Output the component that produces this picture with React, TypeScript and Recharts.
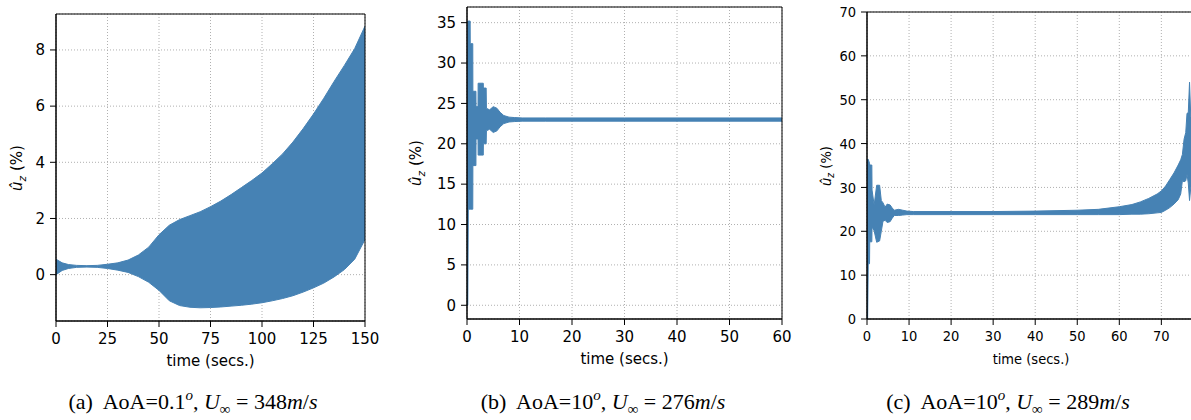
import React from 'react';
import { ComposedChart, Area, XAxis, YAxis, CartesianGrid, ReferenceArea } from 'recharts';

// (a) AoA=0.1, U=348 m/s : envelope of the oscillation
const timesA = [0, 3, 6, 10, 15, 20, 25, 30, 35, 40, 45, 50, 55, 60, 65, 70, 75, 80, 85, 90, 95, 100, 105, 110, 115, 120, 125, 130, 135, 140, 145, 150];
const upperA = [0.55, 0.42, 0.36, 0.33, 0.32, 0.33, 0.37, 0.42, 0.52, 0.7, 0.98, 1.42, 1.76, 1.96, 2.1, 2.24, 2.42, 2.62, 2.85, 3.1, 3.35, 3.62, 3.95, 4.3, 4.72, 5.2, 5.72, 6.28, 6.88, 7.45, 8.05, 8.85];
const lowerA = [0.0, 0.15, 0.22, 0.26, 0.27, 0.26, 0.22, 0.16, 0.08, -0.07, -0.27, -0.56, -0.93, -1.1, -1.16, -1.18, -1.17, -1.15, -1.12, -1.09, -1.05, -1.0, -0.93, -0.85, -0.75, -0.62, -0.47, -0.3, -0.08, 0.18, 0.55, 1.25];

// (b) AoA=10, U=276 m/s
const timesB = [0, 0.15, 0.25, 0.6, 0.62, 1.1, 1.12, 1.7, 1.72, 2.1, 2.12, 3.1, 3.12, 3.65, 3.7, 4.3, 5.0, 5.7, 6.3, 7.0, 8.0, 9.0, 10.5, 15, 20, 30, 40, 50, 60];
const upperB = [0.5, 35.2, 35.2, 35.2, 32.4, 32.4, 26.5, 26.5, 24.6, 24.6, 27.5, 27.5, 26.9, 26.9, 24.4, 24.2, 24.6, 24.4, 23.9, 23.5, 23.3, 23.25, 23.2, 23.2, 23.2, 23.2, 23.2, 23.2, 23.2];
const lowerB = [0, 0, 11.9, 11.9, 11.9, 11.9, 17.3, 17.3, 20.6, 20.6, 18.6, 18.6, 20.0, 20.0, 21.6, 21.8, 21.4, 21.6, 22.1, 22.5, 22.7, 22.75, 22.8, 22.8, 22.8, 22.8, 22.8, 22.8, 22.8];

// (c) AoA=10, U=289 m/s
const timesC = [0, 0.15, 0.3, 0.6, 0.65, 1.15, 1.2, 1.7, 2.3, 3.0, 3.4, 3.8, 4.3, 4.8, 5.5, 6.0, 6.5, 7.5, 8.5, 9.5, 11, 20, 30, 40, 50, 55, 60, 63, 65, 67, 69, 70, 71, 72, 73, 74, 74.6, 75, 75.4, 75.8, 76.1, 76.4, 76.7, 77.0, 78];
const upperC = [0.5, 36.4, 36.4, 35.5, 35.1, 35.1, 29.4, 26, 30.5, 30.5, 27, 26.5, 25.5, 26.2, 26.0, 25.3, 24.8, 25.0, 24.8, 24.6, 24.5, 24.5, 24.5, 24.6, 24.8, 25.0, 25.6, 26.1, 26.7, 27.5, 28.5, 29.2, 30.3, 31.8, 33.3, 35.1, 36.3, 37.5, 41, 42.5, 46.9, 47, 54, 46, 47];
const lowerC = [0, 0, 12.6, 12.6, 17.6, 17.6, 21, 20.1, 17.5, 17.8, 20, 22.3, 22.5, 22, 22.2, 23.0, 23.6, 23.6, 23.7, 23.8, 23.8, 23.8, 23.8, 23.8, 23.8, 23.8, 23.8, 23.9, 23.9, 24.0, 24.2, 24.3, 24.8, 25.4, 26.2, 27.2, 28.5, 31.5, 31.3, 31.5, 33, 31, 27, 30, 31];

const ticksXA = [0, 25, 50, 75, 100, 125, 150];
const ticksYA = [0, 2, 4, 6, 8];
const ticksXB = [0, 10, 20, 30, 40, 50, 60];
const ticksYB = [0, 5, 10, 15, 20, 25, 30, 35];
const ticksXC = [0, 10, 20, 30, 40, 50, 60, 70];
const ticksYC = [0, 10, 20, 30, 40, 50, 60, 70];

const BLUE = '#4682b4';
const YW = 60;
const XH = 50;
const MT = 10;
const MR = 30;

function toRows(times: number[], lower: number[], upper: number[]) {
  return times.map((t, i) => ({ t, band: [lower[i], upper[i]] }));
}

interface PanelProps {
  rows: { t: number; band: number[] }[];
  plotLeft: number;
  plotTop: number;
  plotW: number;
  plotH: number;
  xDomain: [number, number];
  yDomain: [number, number];
  xTicks: number[];
  yTicks: number[];
  font: string;
  fontSize: number;
  labelOffset: number;
}

function Panel(p: PanelProps) {
  const tickStyle = { fill: '#000', fontFamily: p.font, fontSize: p.fontSize };
  return (
    <div style={{ position: 'absolute', left: p.plotLeft - YW, top: p.plotTop - MT }}>
      <ComposedChart
        width={YW + p.plotW + MR}
        height={MT + p.plotH + XH}
        data={p.rows}
        margin={{ top: MT, right: MR, bottom: 0, left: 0 }}
      >
        <CartesianGrid stroke="#b0b0b0" strokeDasharray="1 2" />
        <XAxis
          dataKey="t"
          type="number"
          domain={p.xDomain}
          ticks={p.xTicks}
          allowDataOverflow
          height={XH}
          tick={tickStyle}
          tickSize={6}
          tickMargin={6}
          stroke="#000"
          label={{
            value: 'time (secs.)',
            position: 'insideBottom',
            offset: p.labelOffset,
            style: { fill: '#000', fontFamily: p.font, fontSize: p.fontSize },
          }}
        />
        <YAxis
          type="number"
          domain={p.yDomain}
          ticks={p.yTicks}
          allowDataOverflow
          width={YW}
          tick={tickStyle}
          tickSize={6}
          tickMargin={5}
          stroke="#000"
        />
        <Area
          dataKey="band"
          type="linear"
          stroke={BLUE}
          strokeWidth={1}
          fill={BLUE}
          fillOpacity={1}
          dot={false}
          activeDot={false}
          isAnimationActive={false}
        />
        <ReferenceArea
          x1={p.xDomain[0]}
          x2={p.xDomain[1]}
          y1={p.yDomain[0]}
          y2={p.yDomain[1]}
          fill="none"
          fillOpacity={0}
          stroke="#000"
          strokeWidth={1}
        />
      </ComposedChart>
    </div>
  );
}

function YTitle({ x, y, font, size }: { x: number; y: number; font: string; size: number }) {
  return (
    <div
      style={{
        position: 'absolute',
        left: x,
        top: y,
        transform: 'translate(-50%, -50%) rotate(-90deg)',
        whiteSpace: 'nowrap',
        fontFamily: font,
        fontSize: size,
        color: '#000',
      }}
    >
      <i>û</i>
      <sub style={{ fontSize: size * 0.7 }}>
        <i>z</i>
      </sub>{' '}
      (%)
    </div>
  );
}

function Caption({ x, tag, aoa, speed }: { x: number; tag: string; aoa: string; speed: string }) {
  return (
    <div
      style={{
        position: 'absolute',
        left: x,
        top: 412,
        transform: 'translate(-50%, -80%)',
        whiteSpace: 'nowrap',
        fontFamily: '"Liberation Serif", "Times New Roman", serif',
        fontSize: 22,
        color: '#000',
      }}
    >
      ({tag})&nbsp; AoA={aoa}
      <sup style={{ fontSize: 15 }}>
        <i>o</i>
      </sup>
      , <i>U</i>
      <sub style={{ fontSize: 15 }}>∞</sub> = {speed}
      <i>m</i>/<i>s</i>
    </div>
  );
}

export default function App() {
  const sans = '"DejaVu Sans", sans-serif';
  const cond = '"DejaVu Sans Condensed", "DejaVu Sans", sans-serif';
  return (
    <div
      style={{
        position: 'absolute',
        left: 0,
        top: 0,
        width: 1191,
        height: 420,
        overflow: 'hidden',
        background: '#fff',
      }}
    >
      <Panel
        rows={toRows(timesA, lowerA, upperA)}
        plotLeft={56}
        plotTop={14}
        plotW={309}
        plotH={307}
        xDomain={[0, 150]}
        yDomain={[-1.65, 9.28]}
        xTicks={ticksXA}
        yTicks={ticksYA}
        font={sans}
        fontSize={15}
        labelOffset={5}
      />
      <Panel
        rows={toRows(timesB, lowerB, upperB)}
        plotLeft={467}
        plotTop={7}
        plotW={315}
        plotH={312}
        xDomain={[0, 60]}
        yDomain={[-1.7, 36.94]}
        xTicks={ticksXB}
        yTicks={ticksYB}
        font={sans}
        fontSize={15}
        labelOffset={5}
      />
      <Panel
        rows={toRows(timesC, lowerC, upperC)}
        plotLeft={867}
        plotTop={12}
        plotW={328}
        plotH={307}
        xDomain={[0, 78]}
        yDomain={[0, 70]}
        xTicks={ticksXC}
        yTicks={ticksYC}
        font={cond}
        fontSize={14.5}
        labelOffset={5}
      />
      <YTitle x={18} y={168} font={sans} size={15} />
      <YTitle x={417} y={163} font={sans} size={15} />
      <YTitle x={827} y={166} font={cond} size={14.5} />
      <Caption x={193} tag="a" aoa="0.1" speed="348" />
      <Caption x={603} tag="b" aoa="10" speed="276" />
      <Caption x={1008} tag="c" aoa="10" speed="289" />
    </div>
  );
}
